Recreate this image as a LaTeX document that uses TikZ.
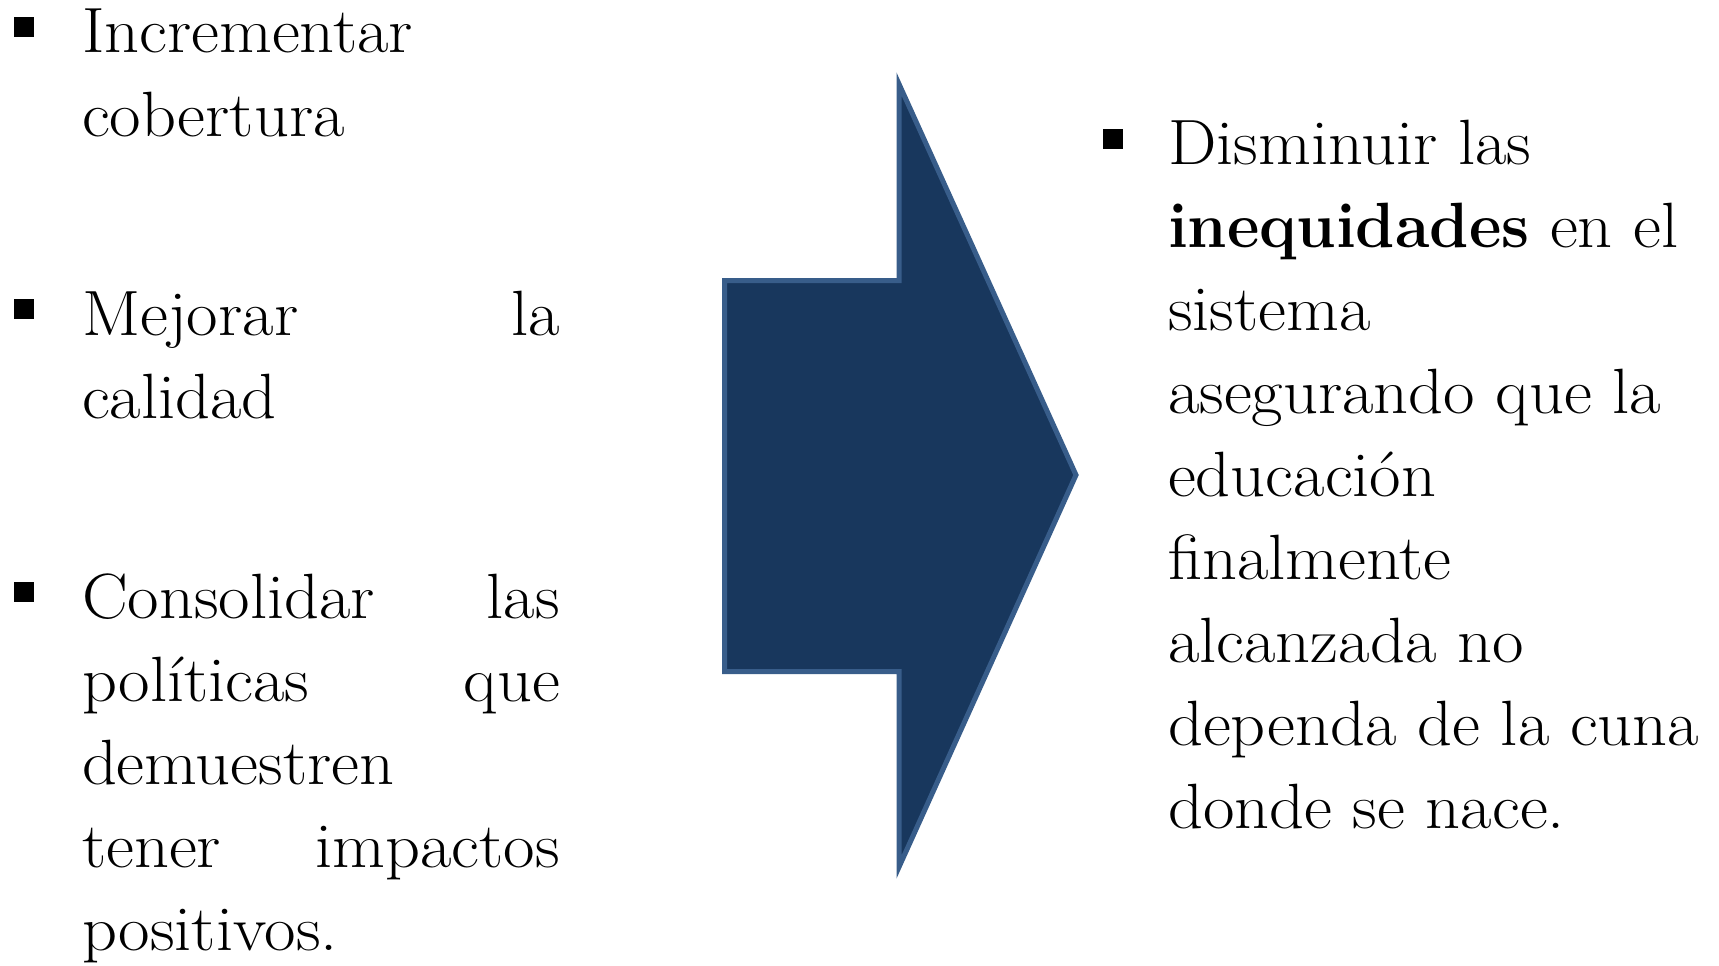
\documentclass[tikz,border=0pt]{standalone}
\usepackage{tikz}
\usepackage{graphicx}
\usepackage{fontspec}
\setmainfont{Latin Modern Roman}[FakeStretch=1.07]
\definecolor{arrowfill}{RGB}{24,55,93}
\definecolor{arrowline}{RGB}{56,93,138}
\begin{document}
\begin{tikzpicture}[x=1pt,y=-1pt,
  txt/.style={anchor=base west,inner sep=0pt,outer sep=0pt,font=\fontsize{64}{83}\selectfont},
  bul/.style={anchor=north west,fill=black,inner sep=0pt,minimum size=20pt},
  bigarrow/.style={fill=arrowfill,draw=arrowline,line width=5pt,line join=miter}]
\useasboundingbox (0,0) rectangle (1719,966);
% arrow
\draw[bigarrow] (724.5,280.5) -- (899,280.5) -- (899,84) -- (1076,475) -- (899,867) -- (899,671.5) -- (724.5,671.5) -- cycle;
% left column
\node[bul] (b1) at (14,17) {};
\node[txt] (l1) at (82,53) {Incrementar};
\node[txt] (l2) at (82,136) {cobertura};
\node[bul] (b2) at (14,299) {};
\node[txt] (l3) at (82,335) {\makebox[478pt][s]{Mejorar la}};
\node[txt] (l4) at (82,418) {calidad};
\node[bul] (b3) at (14,582) {};
\node[txt] (l5) at (82,618) {\makebox[478pt][s]{Consolidar las}};
\node[txt] (l6) at (82,701) {\makebox[478pt][s]{políticas que}};
\node[txt] (l7) at (82,784) {demuestren};
\node[txt] (l8) at (82,867) {\makebox[478pt][s]{tener impactos}};
\node[txt] (l9) at (82,950) {positivos.};
% right column
\node[bul] (b4) at (1103,129) {};
\node[txt] (r1) at (1168,164) {Disminuir las};
\node[txt] (r2) at (1168,247) {\scalebox{0.92}[1]{\textbf{inequidades}} en el};
\node[txt] (r3) at (1168,330) {sistema};
\node[txt] (r4) at (1168,413) {asegurando que la};
\node[txt] (r5) at (1168,496) {educación};
\node[txt] (r6) at (1168,579) {finalmente};
\node[txt] (r7) at (1168,662) {alcanzada no};
\node[txt] (r8) at (1168,745) {dependa de la cuna};
\node[txt] (r9) at (1168,828) {donde se nace.};
\end{tikzpicture}
\end{document}
